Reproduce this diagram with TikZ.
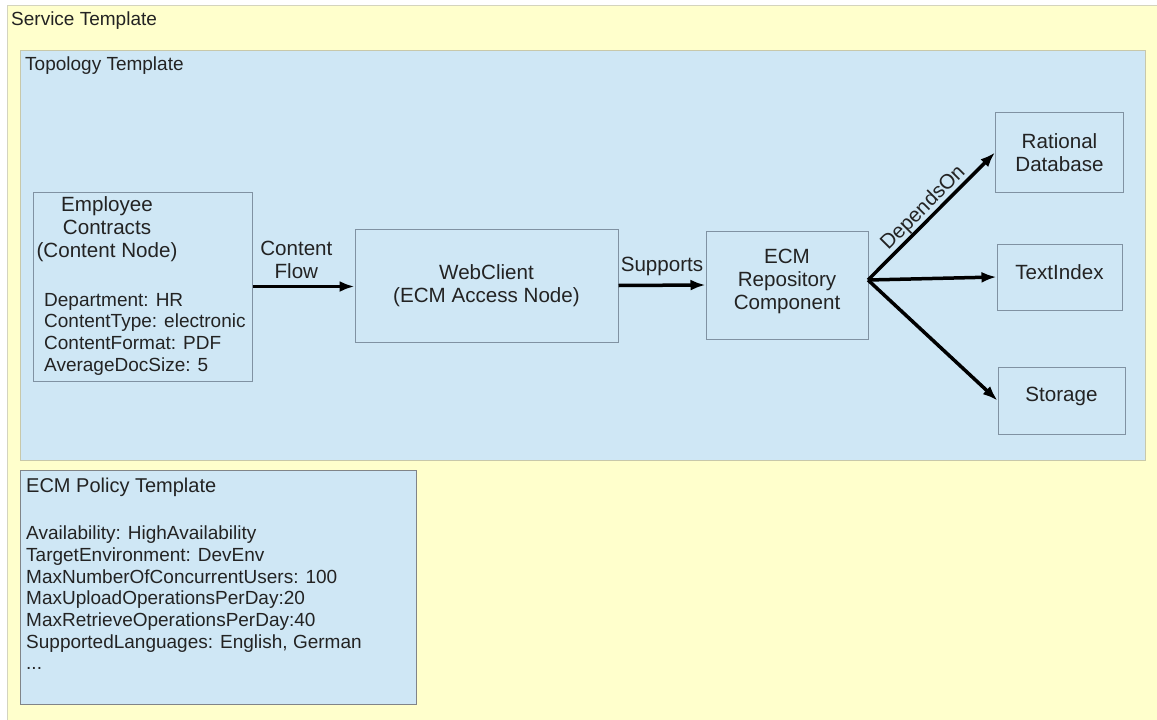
\documentclass[tikz,border=0pt]{standalone}
\usepackage{fontspec}
\setmainfont{Liberation Sans}
\usetikzlibrary{arrows.meta}
\definecolor{svcyellow}{RGB}{255,255,204}
\definecolor{svcborder}{RGB}{212,212,190}
\definecolor{topoblue}{RGB}{207,231,245}
\definecolor{topoborder}{RGB}{200,200,170}
\definecolor{boxborder}{RGB}{128,146,162}
\definecolor{policyborder}{RGB}{128,132,136}
\definecolor{txtgray}{RGB}{35,35,35}

\begin{document}
\begin{tikzpicture}[x=1pt, y=-1pt,
    every node/.style={text=txtgray, inner sep=0pt, font=\fontsize{19}{21.7}\selectfont},
    bigtext/.style={font=\fontsize{20.6}{23.2}\selectfont},
    compbox/.style={bigtext, draw=boxborder, line width=1pt, fill=topoblue, align=center},
    flow/.style={line width=3.5pt, -{Latex[length=15pt,width=11pt]}}]
    % Page and service template
    \clip (0,0) rectangle (1157,720);
    \fill[white] (0,0) rectangle (1157,720);
    \node[draw=svcborder, line width=1pt, fill=svcyellow, minimum width=1180pt, minimum height=740pt] (service) at (597,375) {};
    \node[anchor=west] (servicelbl) at (11,21) {Service Template};

    % Topology template
    \node[draw=topoborder, line width=1pt, fill=topoblue, minimum width=1125pt, minimum height=410pt] (topo) at (582.5,255) {};
    \node[anchor=west] (topolbl) at (25,66) {Topology Template};

    % Content node
    \node[compbox, minimum width=219pt, minimum height=189pt] (emp) at (142.5,286.5) {};
    \node[bigtext, align=center] (emptitle) at (107,229) {Employee\\Contracts\\(Content Node)};
    \node[anchor=west, align=left] (empattr) at (44,334) {Department: HR\\ContentType: electronic\\ContentFormat: PDF\\AverageDocSize: 5};

    % Access node and repository
    \node[compbox, minimum width=263pt, minimum height=113pt] (web) at (486.5,285.5) {WebClient\\(ECM Access Node)};
    \node[compbox, minimum width=162pt, minimum height=108pt, text depth=11pt] (ecm) at (787,285) {ECM\\Repository\\Component};

    % Dependencies
    \node[compbox, minimum width=128pt, minimum height=80pt] (rdb) at (1059.5,152.5) {Rational\\Database};
    \node[compbox, minimum width=125pt, minimum height=66pt, text depth=10pt] (tix) at (1059.5,277) {TextIndex};
    \node[compbox, minimum width=127pt, minimum height=67pt, text depth=13pt] (sto) at (1061.5,400.5) {Storage};

    % Connectors
    \draw[flow] (emp.east) -- (web.west |- emp.east)
        node[bigtext, pos=0.43, above=6pt, align=center] (flowlbl) {Content\\Flow};
    \draw[flow] (web.east) -- (ecm.west)
        node[bigtext, midway, above=8pt] (supplbl) {Supports};
    \coordinate (fork) at (868,280);
    \draw[flow] (fork) -- (rdb.west)
        node[bigtext, pos=0.5, sloped, above=0pt] (deplbl) {DependsOn};
    \draw[flow] (fork) -- (tix.west);
    \draw[flow] (fork) -- (sto.west);

    % Policy template
    \node[draw=policyborder, line width=1pt, fill=topoblue, minimum width=396pt, minimum height=234pt] (policy) at (218,587) {};
    \node[anchor=west, font=\fontsize{20}{24}\selectfont] (policylbl) at (26,487) {ECM Policy Template};
    \node[anchor=west, align=left] (policyattr) at (26,598) {Availability: HighAvailability\\TargetEnvironment: DevEnv\\MaxNumberOfConcurrentUsers: 100\\MaxUploadOperationsPerDay:20\\MaxRetrieveOperationsPerDay:40\\SupportedLanguages: English, German\\...};
\end{tikzpicture}
\end{document}
